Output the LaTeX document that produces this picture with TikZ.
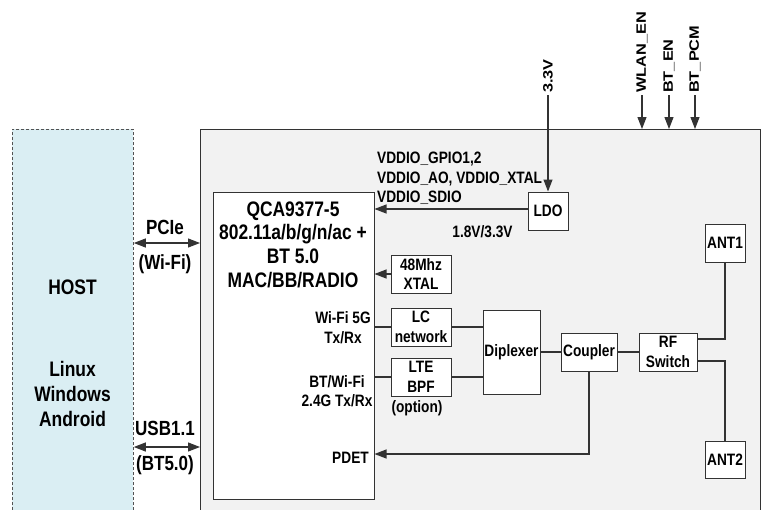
\documentclass[tikz,border=0pt]{standalone}
\usepackage{fontspec}
\usetikzlibrary{arrows.meta,calc}
\newfontfamily\nf{Liberation Sans Bold}[FakeStretch=0.83]
\newfontfamily\vf{Liberation Sans Bold}[FakeStretch=1.2]
\definecolor{hostfill}{HTML}{DAEEF3}
\definecolor{mainfill}{HTML}{F2F2F2}
\definecolor{ln}{HTML}{333333}
\tikzset{
  txt/.style={font=\nf\fontsize{16.5}{19.5}\selectfont, inner sep=0pt, text=black},
  mid/.style={font=\nf\fontsize{20.5}{24}\selectfont, inner sep=0pt, text=black},
  big/.style={font=\nf\fontsize{21}{24}\selectfont, inner sep=0pt, text=black},
  vtxt/.style={font=\vf\fontsize{13.6}{16}\selectfont, inner sep=0pt, rotate=90, anchor=west},
  blk/.style={draw=ln, fill=white, line width=1pt, inner sep=0pt, align=center,
    font=\nf\fontsize{16.5}{19.5}\selectfont},
  wire/.style={draw=ln, line width=1.1pt},
  arr/.style={wire, -{Triangle[length=12pt,width=9pt]}},
  darr/.style={wire, {Triangle[length=12pt,width=9pt]}-{Triangle[length=12pt,width=9pt]}},
}
\begin{document}
\begin{tikzpicture}[x=1pt,y=-1pt]
\useasboundingbox (0,0) rectangle (763,509);
\clip (0,0) rectangle (763,509);
% host and module
\node[draw=ln!85, dash pattern=on 3pt off 2pt, fill=hostfill, line width=0.8pt,
  minimum width=121pt, minimum height=400pt, inner sep=0pt, anchor=north west] (host) at (12,129) {};
\node[draw=ln, fill=mainfill, line width=1pt,
  minimum width=560pt, minimum height=400pt, inner sep=0pt, anchor=north west] (main) at (200,129) {};
% host texts
\node[big, anchor=base] (hostt) at (72.5,294.5) {HOST};
\node[big, anchor=base] (os1) at (72.5,376.5) {Linux};
\node[big, anchor=base] (os2) at (72.5,401.5) {Windows};
\node[big, anchor=base] (os3) at (72.5,426.5) {Android};
% chip
\node[blk, minimum width=161pt, minimum height=307pt, anchor=north west] (chip) at (212.5,192) {};
\node[big, anchor=base] (q1) at (293,216) {QCA9377-5};
\node[big, anchor=base] (q2) at (293,239.5) {802.11a/b/g/n/ac +};
\node[big, anchor=base] (q3) at (293,263) {BT 5.0};
\node[big, anchor=base] (q4) at (293,287) {MAC/BB/RADIO};
\node[txt, align=center] (w5) at (343,327.5) {Wi-Fi 5G\\Tx/Rx};
\node[txt, align=center] (w24) at (337,391) {BT/Wi-Fi\\2.4G Tx/Rx};
\node[txt, anchor=base] (pdet) at (350.5,463.5) {PDET};
% blocks
\node[blk, minimum width=40pt, minimum height=38pt] (ldo) at (548,211) {LDO};
\node[blk, minimum width=60pt, minimum height=38pt] (xtal) at (421,274) {48Mhz\\XTAL};
\node[blk, minimum width=60pt, minimum height=38pt] (lc) at (421,327) {LC\\network};
\node[blk, minimum width=60pt, minimum height=38pt] (lte) at (421,377) {LTE\\BPF};
\node[txt] (opt) at (417,408) {(option)};
\node[blk, minimum width=57pt, minimum height=84pt] (dip) at (511.5,352) {Diplexer};
\node[blk, minimum width=56pt, minimum height=38pt] (coup) at (589,352) {Coupler};
\node[blk, minimum width=58pt, minimum height=38pt] (rfsw) at (668,352) {RF\\Switch};
\node[blk, minimum width=40pt, minimum height=38pt] (ant1) at (725,243) {ANT1};
\node[blk, minimum width=40pt, minimum height=37pt] (ant2) at (725,459.5) {ANT2};
% supply labels
\node[txt, anchor=base west] (vd1) at (377,163) {VDDIO\_GPIO1,2};
\node[txt, anchor=base west] (vd2) at (377,183) {VDDIO\_AO, VDDIO\_XTAL};
\node[txt, anchor=base west] (vd3) at (377,202.5) {VDDIO\_SDIO};
\node[txt, anchor=base] (v18) at (482.5,237) {1.8V/3.3V};
% host interface labels
\node[mid, anchor=base] (pcie) at (165,234) {PCIe};
\node[mid, anchor=base] (pciew) at (165,269) {(Wi-Fi)};
\node[mid, anchor=base] (usb) at (165,435) {USB1.1};
\node[mid, anchor=base] (usbb) at (165,470) {(BT5.0)};
% top signals
\coordinate (t33) at (548,95);
\coordinate (twl) at (642,95);
\coordinate (tbe) at (669,95);
\coordinate (tbp) at (695,95);
\node[vtxt] (l33) at (548,93) {3.3V};
\node[vtxt] (lwl) at (642,93) {WLAN\_EN};
\node[vtxt] (lbe) at (669,93) {BT\_EN};
\node[vtxt] (lbp) at (695,93) {BT\_PCM};
\draw[arr] (t33) -- (ldo.north);
\draw[arr] (twl) -- (twl |- main.north);
\draw[arr] (tbe) -- (tbe |- main.north);
\draw[arr] (tbp) -- (tbp |- main.north);
% connectors
\draw[darr] (host.east |- 0,243) -- (main.west |- 0,243);
\draw[darr] (host.east |- 0,447) -- (main.west |- 0,447);
\draw[arr] ($(ldo.west)+(0,-2)$) -- ($(ldo.west -| chip.east)+(0,-2)$);
\draw[arr] (xtal.west) -- (xtal.west -| chip.east);
\draw[wire] (lc.west) -- (lc.west -| chip.east);
\draw[wire] (lte.west) -- (lte.west -| chip.east);
\draw[wire] (lc.east) -- (lc.east -| dip.west);
\draw[wire] (lte.east) -- (lte.east -| dip.west);
\draw[wire] (dip.east) -- (coup.west);
\draw[wire] (coup.east) -- (rfsw.west);
\draw[wire] ($(rfsw.east)+(0,-13)$) -| (ant1.south);
\draw[wire] ($(rfsw.east)+(0,9)$) -| (ant2.north);
\coordinate (pd) at (589,454);
\draw[arr] (coup.south) -- (pd) -- (pd -| chip.east);
\end{tikzpicture}
\end{document}
